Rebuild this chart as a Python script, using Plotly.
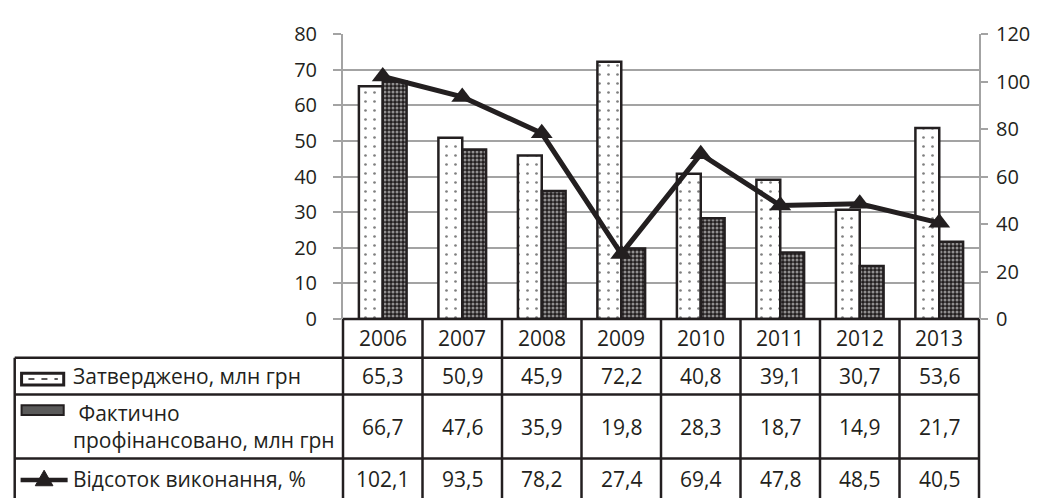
import plotly.graph_objects as go

years = ["2006", "2007", "2008", "2009", "2010", "2011", "2012", "2013"]
approved = [65.3, 50.9, 45.9, 72.2, 40.8, 39.1, 30.7, 53.6]
financed = [66.7, 47.6, 35.9, 19.8, 28.3, 18.7, 14.9, 21.7]
percent = [102.1, 93.5, 78.2, 27.4, 69.4, 47.8, 48.5, 40.5]
row_labels = ["Затверджено, млн грн", " Фактично<br>профінансовано, млн грн", "Відсоток виконання, %"]

# page body has an 8px margin; work in window pixels and shift
OFF = 8
W, H = 1042 - OFF, 498 - OFF
PL, PR, PT, PB = 343, 992, 25, 319   # plot area in window pixels
ML, MR, MT, MB = PL - OFF, (W + OFF) - PR, PT - OFF, (H + OFF) - PB
PW = PR - PL
PH = PB - PT
INK = "#231f20"
GRID = "#a3a3a3"
FONT = "Open Sans"

def px_x(px):
    return (px - PL) / PW

def px_y(py):
    return (PB - py) / PH

def fmt(v):
    return f"{v:.1f}".replace(".", ",")

fig = go.Figure()
fig.add_trace(go.Bar(
    x=years, y=approved, name="Затверджено, млн грн",
    marker=dict(color="white", line=dict(color=INK, width=2.5),
                pattern=dict(shape=".", fgcolor="black", bgcolor="white", size=9, solidity=0.07)),
    showlegend=False,
))
fig.add_trace(go.Bar(
    x=years, y=financed, name="Фактично профінансовано, млн грн",
    marker=dict(color=INK, line=dict(color=INK, width=2.5),
                pattern=dict(shape=".", fgcolor="white", bgcolor=INK, size=4, solidity=0.45)),
    showlegend=False,
))
fig.add_trace(go.Scatter(
    x=years, y=percent, yaxis="y2", mode="lines+markers", name="Відсоток виконання, %",
    line=dict(color=INK, width=5),
    marker=dict(symbol="triangle-up", size=19, color=INK),
    showlegend=False,
))

shapes = []
n = len(years)
bottom = H + OFF + 10
row_py = [319, 359, 397, 463]
for k in range(n + 1):
    shapes.append(dict(type="line", xref="paper", yref="paper",
                       x0=k / n, x1=k / n, y0=px_y(319), y1=px_y(bottom),
                       line=dict(color=INK, width=2.5)))
shapes.append(dict(type="line", xref="paper", yref="paper",
                   x0=px_x(8), x1=px_x(8), y0=px_y(359), y1=px_y(bottom),
                   line=dict(color=INK, width=2.5)))
shapes.append(dict(type="line", xref="paper", yref="paper",
                   x0=0, x1=1, y0=px_y(319), y1=px_y(319),
                   line=dict(color=INK, width=2.5)))
for py in row_py[1:]:
    shapes.append(dict(type="line", xref="paper", yref="paper",
                       x0=px_x(8), x1=1, y0=px_y(py), y1=px_y(py),
                       line=dict(color=INK, width=2.5)))
# legend keys
shapes.append(dict(type="rect", xref="paper", yref="paper",
                   x0=px_x(15), x1=px_x(58), y0=px_y(375), y1=px_y(387),
                   fillcolor="white", line=dict(color=INK, width=3)))
shapes.append(dict(type="line", xref="paper", yref="paper",
                   x0=px_x(22), x1=px_x(52), y0=px_y(381), y1=px_y(381),
                   line=dict(color=INK, width=1.5, dash="6px,7px")))
shapes.append(dict(type="rect", xref="paper", yref="paper",
                   x0=px_x(15), x1=px_x(58), y0=px_y(408), y1=px_y(418),
                   fillcolor="#5a5a5a", line=dict(color=INK, width=2)))
shapes.append(dict(type="line", xref="paper", yref="paper",
                   x0=px_x(14), x1=px_x(62), y0=px_y(485), y1=px_y(485),
                   line=dict(color=INK, width=4.5)))
tri = "M {} {} L {} {} L {} {} Z".format(px_x(29), px_y(491), px_x(47), px_y(491), px_x(38), px_y(475))
shapes.append(dict(type="path", xref="paper", yref="paper", path=tri,
                   fillcolor=INK, line=dict(color=INK, width=1)))

ann = []
tf = dict(family=FONT, size=21, color=INK)
row_centers = [339, 378, 430, 484]
for i, yr in enumerate(years):
    ann.append(dict(x=i, xref="x", y=px_y(row_centers[0]), yref="paper", text=yr,
                    showarrow=False, font=tf, xanchor="center", yanchor="middle"))
    for r, series in enumerate([approved, financed, percent]):
        ann.append(dict(x=i, xref="x", y=px_y(row_centers[r + 1]), yref="paper",
                        text=fmt(series[i]), showarrow=False, font=tf,
                        xanchor="center", yanchor="middle"))
for r, lab in enumerate(row_labels):
    ann.append(dict(x=px_x(65), xref="paper", y=px_y(row_centers[r + 1]), yref="paper",
                    text=lab, showarrow=False, font=tf, xanchor="left", yanchor="middle",
                    align="left"))

fig.update_layout(
    width=W, height=H,
    margin=dict(l=ML, r=MR, t=MT, b=MB, pad=0),
    paper_bgcolor="white", plot_bgcolor="white",
    barmode="group", bargap=0.4, bargroupgap=0,
    font=dict(family=FONT, size=20, color=INK),
    xaxis=dict(type="category", range=[-0.5, n - 0.5], showticklabels=False,
               showgrid=False, zeroline=False, showline=False, ticks=""),
    yaxis=dict(range=[0, 80], dtick=10, ticks="outside", ticklen=8, tickwidth=2,
               tickcolor=GRID, showline=True, linecolor=GRID, linewidth=2,
               showgrid=True, gridcolor=GRID, gridwidth=2, zeroline=False,
               ticklabelstandoff=12, tickfont=dict(family=FONT, size=20, color=INK)),
    yaxis2=dict(range=[0, 120], dtick=20, overlaying="y", side="right",
                ticks="outside", ticklen=7, tickwidth=2, tickcolor=GRID,
                showline=True, linecolor=GRID, linewidth=2, showgrid=False,
                zeroline=False, ticklabelstandoff=4,
                tickfont=dict(family=FONT, size=20, color=INK)),
    shapes=shapes, annotations=ann, showlegend=False,
)

fig.write_html("out.html")
